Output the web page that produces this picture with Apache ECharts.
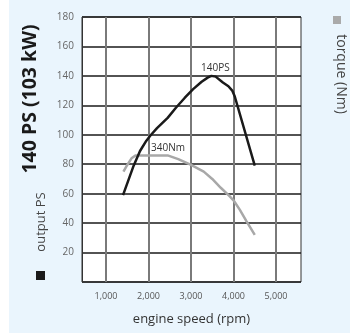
<!DOCTYPE html>
<html>
<head>
<meta charset="utf-8">
<script src="https://cdn.jsdelivr.net/npm/echarts@6/dist/echarts.min.js"></script>
<style>
html,body{margin:0;padding:0;background:#eaf5fd;}
#c{width:350px;height:333px;}
</style>
</head>
<body>
<div id="c"></div>
<script>
// data
var xTicks = [1000, 2000, 3000, 4000, 5000];
var powerPS = [[1400,59],[1650,79],[1800,89],[1950,96],[2050,99.7],[2200,104.5],[2450,111.5],[2650,118.5],[2850,125],[3050,131],[3250,136],[3400,139],[3480,140],[3580,139.5],[3750,135.5],[3880,133],[3970,130],[4030,126],[4500,79]];
var torque = [[1410,75],[1500,79.5],[1600,84],[1700,86],[2000,86],[2450,86],[2700,83.5],[3000,79.5],[3300,75],[3500,70],[3700,64],[3900,58.5],[4000,55.5],[4150,49],[4300,41.5],[4500,32]];
var powerLabel = '140PS';
var torqueLabel = '340Nm';

var chart = echarts.init(document.getElementById('c'));
chart.setOption({
  backgroundColor: '#eaf5fd',
  animation: false,
  grid: {left: 82, right: 49, top: 17, bottom: 51, show: true, backgroundColor: '#ffffff', borderColor: '#333', borderWidth: 1},
  xAxis: {
    type: 'value', min: 435, max: 5588,
    name: 'engine speed (rpm)', nameLocation: 'middle', nameGap: 31,
    nameTextStyle: {fontFamily: 'Open Sans', fontSize: 13, color: '#333'},
    axisLine: {show: false},
    axisTick: {show: false, customValues: xTicks},
    axisLabel: {customValues: xTicks, fontFamily: 'Open Sans', fontSize: 9, color: '#555', margin: 10,
      formatter: function(v){ return v.toLocaleString('en-US'); }},
    splitLine: {show: true, lineStyle: {color: '#7a7a7a', width: 2}}
  },
  yAxis: {
    type: 'value', min: 0, max: 180, interval: 20,
    axisLine: {show: true, lineStyle: {color: '#333', width: 1}},
    axisTick: {show: false},
    axisLabel: {fontFamily: 'Open Sans', fontSize: 10, color: '#666', margin: 8,
      formatter: function(v){ return v === 0 ? '' : String(v); }},
    splitLine: {show: true, lineStyle: {color: '#1a1a1a', width: 1.5}}
  },
  series: [
    {
      type: 'line', data: torque, symbol: 'none',
      lineStyle: {color: '#a8a8a8', width: 2.5, join: 'round'},
      markPoint: {symbol: 'circle', symbolSize: 0,
        label: {show: true, formatter: torqueLabel, position: 'top', distance: 0, offset: [0, -2], fontFamily: 'Open Sans', fontSize: 10, color: '#333'},
        data: [{coord: [2460, 86]}]}
    },
    {
      type: 'line', data: powerPS, symbol: 'none',
      lineStyle: {color: '#1a1a1a', width: 2.5, join: 'round'},
      markPoint: {symbol: 'circle', symbolSize: 0,
        label: {show: true, formatter: powerLabel, position: 'top', distance: 0, offset: [4, -3], fontFamily: 'Open Sans', fontSize: 10, color: '#333'},
        data: [{coord: [3480, 140]}]}
    }
  ],
  graphic: [
    {type: 'rect', left: 0, top: 0, shape: {width: 9, height: 333}, style: {fill: '#ffffff'}, silent: true},
    {type: 'text', x: 30, y: 99, rotation: Math.PI/2,
      style: {text: '140 PS (103 kW)', fontFamily: 'Open Sans', fontWeight: 'bold', fontSize: 19.5, fill: '#1a1a1a', align: 'center', verticalAlign: 'middle'}},
    {type: 'text', x: 41, y: 222, rotation: Math.PI/2,
      style: {text: 'output PS', fontFamily: 'Open Sans', fontSize: 13, fill: '#444', align: 'center', verticalAlign: 'middle'}},
    {type: 'rect', shape: {x: 36, y: 271, width: 9, height: 9}, style: {fill: '#1a1a1a'}},
    {type: 'rect', shape: {x: 333, y: 16, width: 8, height: 8}, style: {fill: '#aaaaaa'}},
    {type: 'text', x: 341, y: 74, rotation: -Math.PI/2,
      style: {text: 'torque (Nm)', fontFamily: 'Open Sans', fontSize: 14, fill: '#444', align: 'center', verticalAlign: 'middle'}}
  ]
});
</script>
</body>
</html>
